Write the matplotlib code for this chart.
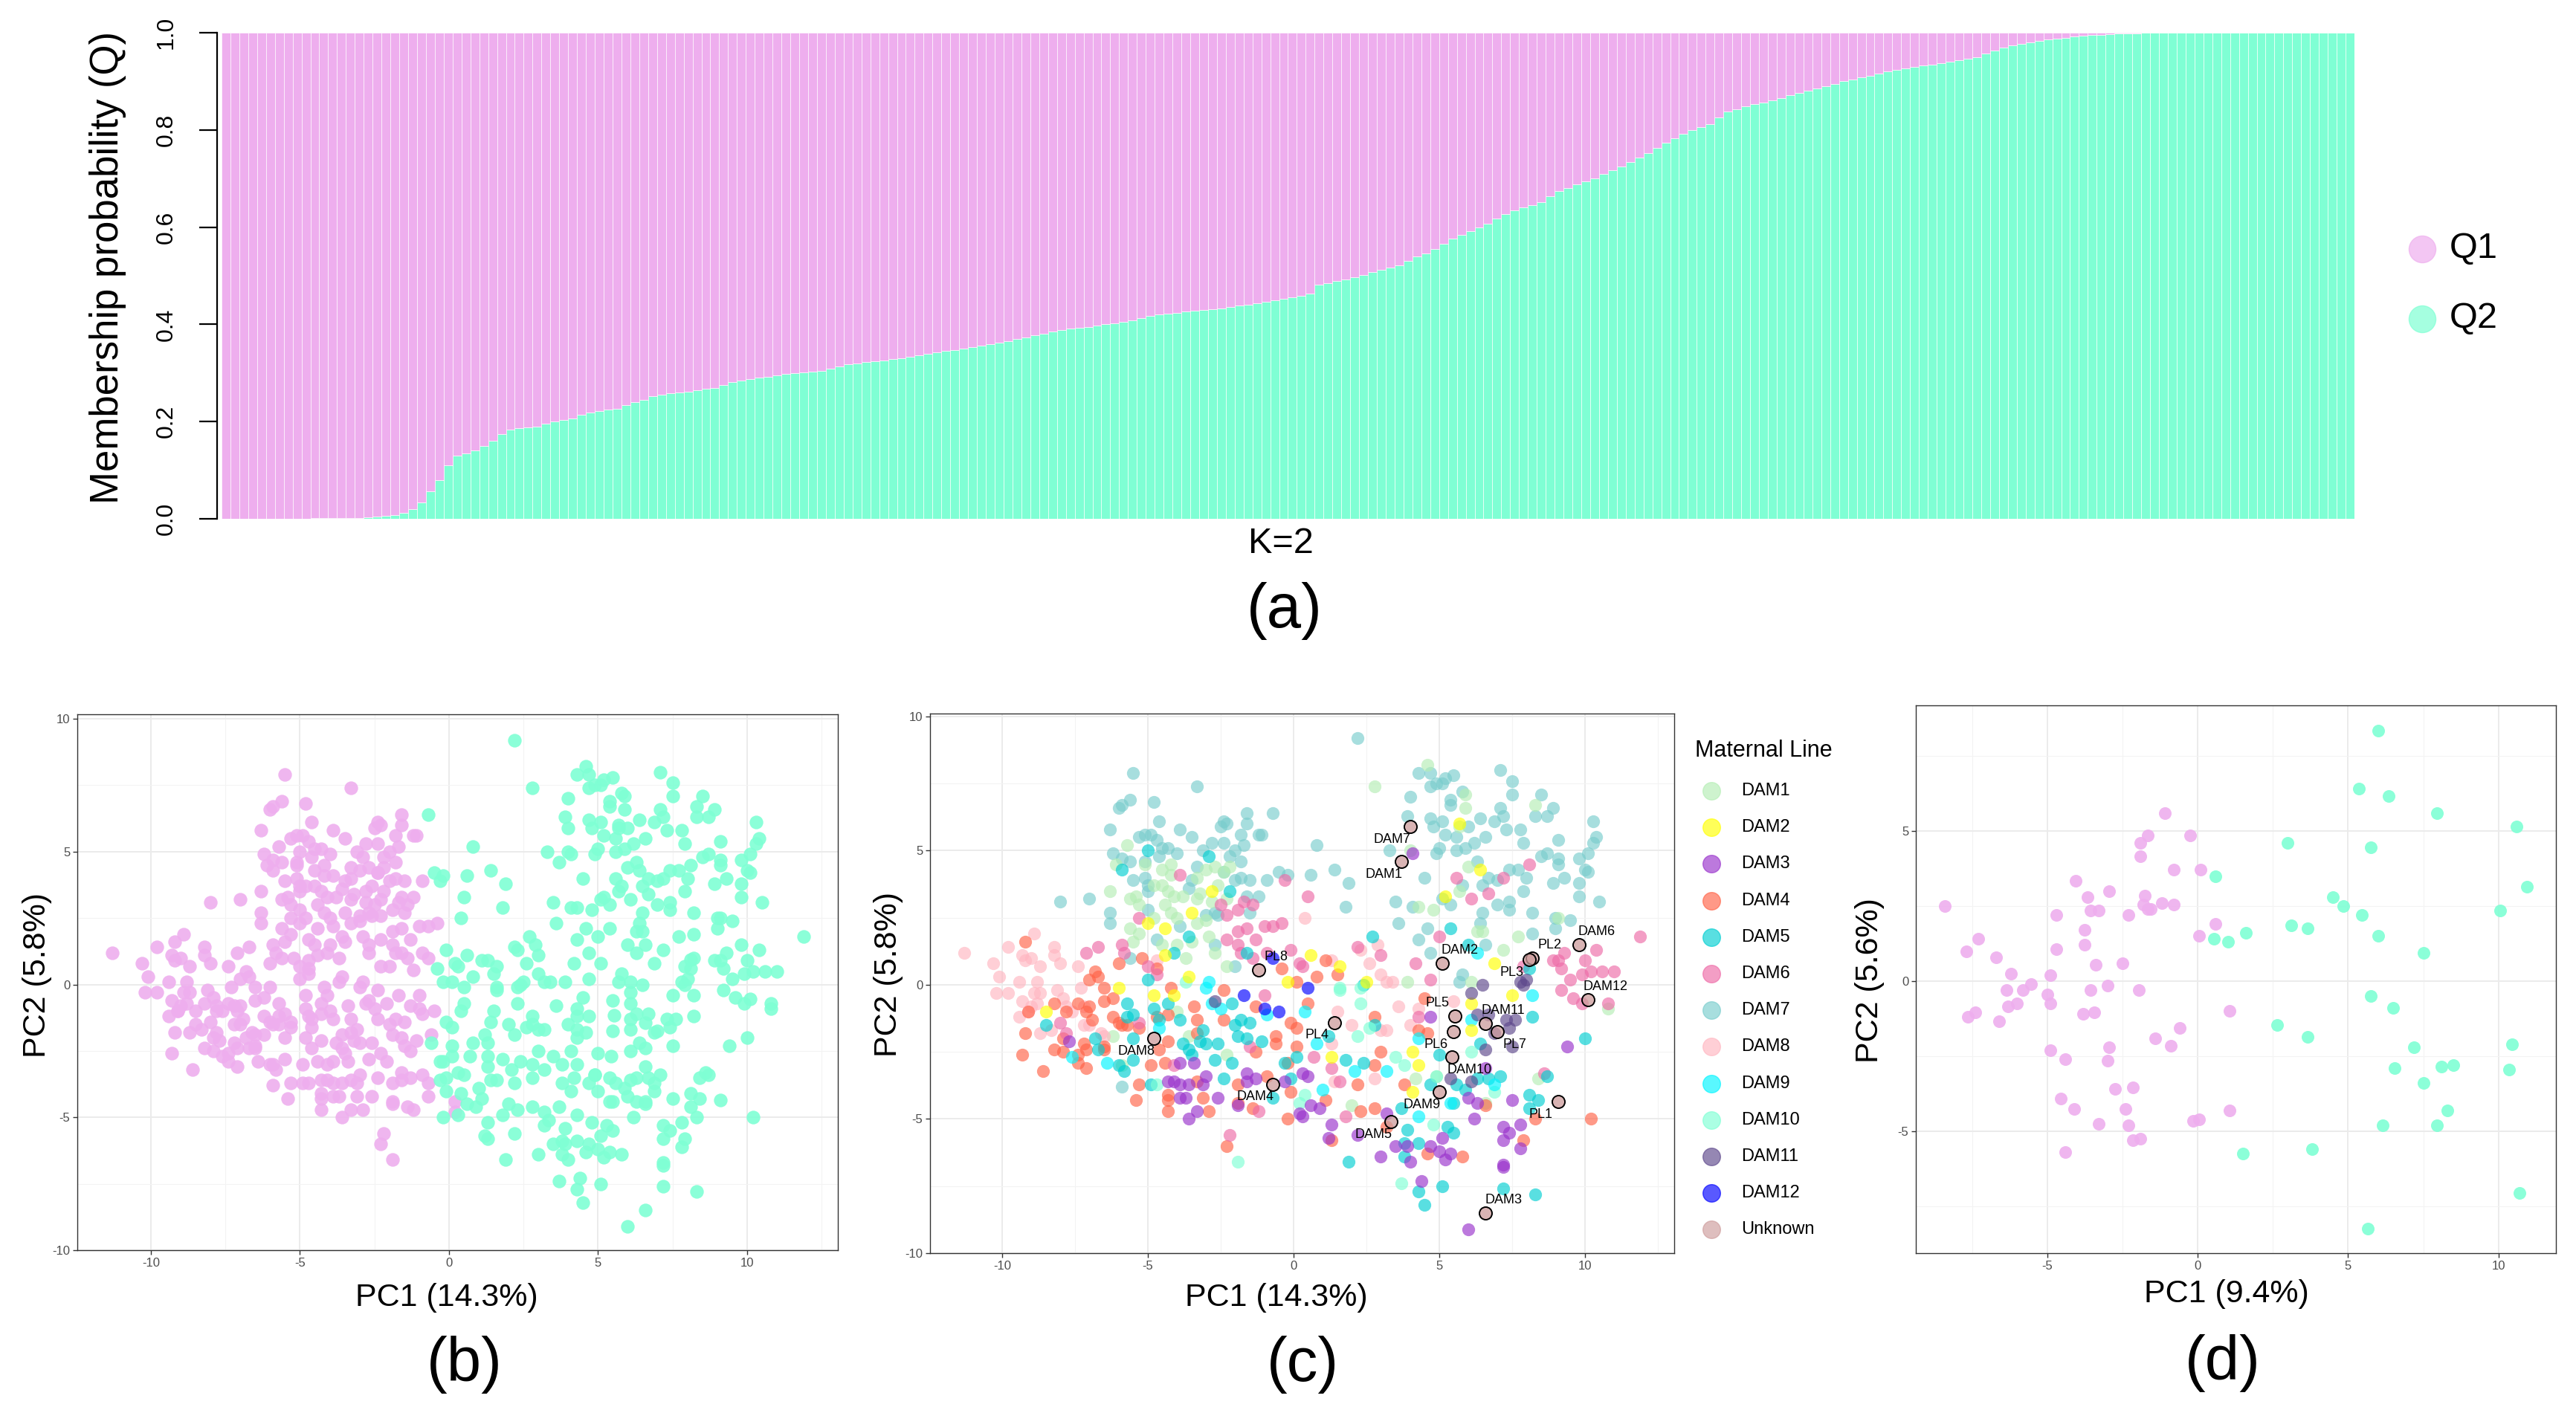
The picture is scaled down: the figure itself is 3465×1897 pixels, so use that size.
import numpy as np
import matplotlib
matplotlib.use("Agg")
import matplotlib.pyplot as plt
from matplotlib.lines import Line2D

plt.rcParams['font.family'] = ['Liberation Sans', 'DejaVu Sans']

W, H = 3465, 1897  # output size in pixels (dpi 100)

# ---------------- (a) membership probabilities, K=2 (sorted by Q2) ----------------
q2 = [
    0.0, 0.0, 0.0, 0.0, 0.0, 0.0, 0.0, 0.0, 0.0, 0.0, 0.001, 0.001, 0.001, 0.002, 0.002, 0.002,
    0.003, 0.005, 0.006, 0.008, 0.012, 0.02, 0.033, 0.057, 0.08, 0.11, 0.13, 0.135, 0.14, 0.15,
    0.16, 0.175, 0.184, 0.186, 0.188, 0.19, 0.195, 0.2, 0.203, 0.206, 0.214, 0.219, 0.222, 0.225, 0.227,
    0.234, 0.24, 0.245, 0.252, 0.256, 0.258, 0.26, 0.262, 0.265, 0.267, 0.269, 0.275, 0.281, 0.285, 0.288,
    0.29, 0.292, 0.295, 0.298, 0.3, 0.301, 0.303, 0.305, 0.309, 0.314, 0.318, 0.32, 0.322, 0.324, 0.326,
    0.328, 0.331, 0.334, 0.337, 0.34, 0.343, 0.345, 0.347, 0.35, 0.353, 0.356, 0.36, 0.363, 0.366, 0.37,
    0.373, 0.377, 0.381, 0.385, 0.388, 0.391, 0.393, 0.395, 0.398, 0.4, 0.402, 0.405, 0.409, 0.413, 0.418,
    0.42, 0.422, 0.424, 0.426, 0.428, 0.429, 0.431, 0.433, 0.436, 0.439, 0.441, 0.444, 0.447, 0.45, 0.453,
    0.456, 0.459, 0.463, 0.481, 0.485, 0.489, 0.493, 0.497, 0.502, 0.507, 0.512, 0.517, 0.522, 0.53, 0.54,
    0.546, 0.555, 0.566, 0.577, 0.584, 0.592, 0.599, 0.607, 0.618, 0.627, 0.634, 0.64, 0.646, 0.652, 0.664,
    0.675, 0.681, 0.688, 0.694, 0.7, 0.709, 0.717, 0.725, 0.734, 0.743, 0.752, 0.763, 0.774, 0.783, 0.792,
    0.8, 0.806, 0.812, 0.826, 0.838, 0.843, 0.848, 0.853, 0.856, 0.861, 0.866, 0.871, 0.876, 0.881, 0.886,
    0.89, 0.895, 0.9, 0.904, 0.908, 0.912, 0.916, 0.92, 0.923, 0.926, 0.929, 0.932, 0.935, 0.938, 0.941,
    0.944, 0.947, 0.95, 0.957, 0.964, 0.97, 0.974, 0.977, 0.98, 0.983, 0.986, 0.988, 0.99, 0.992, 0.994,
    0.995, 0.996, 0.997, 0.998, 0.998, 0.999,
    1.0, 1.0, 1.0, 1.0, 1.0, 1.0, 1.0, 1.0, 1.0, 1.0, 1.0, 1.0,
    1.0, 1.0, 1.0, 1.0, 1.0, 1.0, 1.0, 1.0, 1.0, 1.0, 1.0, 1.0,
]
q_labels = ["Q1", "Q2"]
yticks_a = [0.0, 0.2, 0.4, 0.6, 0.8, 1.0]

# ---------------- (b)/(c) PCA, points per maternal line: (PC1, PC2, cluster) ----------------
dam1 = [(-5.7, 5.2, 1), (-6.1, 4.5, 1), (-5.1, 4.5, 1), (-4.5, 4.3, 1), (-4.2, 4.5, 1), (-4.2, 4.1, 1),
        (-6.3, 3.5, 1), (-5.6, 3.2, 1), (-5.4, 3.3, 1), (-5.3, 3.0, 1), (-4.8, 3.7, 1), (-4.5, 3.7, 1),
        (-4.3, 3.5, 1), (-4.1, 3.3, 1), (-3.8, 3.3, 1), (-3.3, 4.0, 1), (-3.0, 4.3, 1), (-2.7, 4.4, 1),
        (-2.4, 4.2, 1), (-2.2, 4.4, 1), (-2.6, 3.7, 1), (-3.2, 3.4, 1), (-3.3, 3.2, 1), (-2.8, 3.1, 1),
        (-2.3, 3.2, 1), (-4.4, 3.0, 1), (-4.2, 2.7, 1), (-4.0, 2.5, 1), (-3.3, 2.3, 1), (-3.0, 2.4, 1),
        (-4.8, 2.5, 1), (-5.6, 2.1, 1), (-5.3, 1.9, 1), (-5.5, 1.6, 1), (-4.5, 1.5, 1), (-4.0, 1.5, 1),
        (-3.5, 1.6, 1), (-2.9, 1.8, 1), (-2.7, 1.2, 1), (-3.7, 1.0, 1), (-2.3, 0.7, 1),
        (4.6, 8.2, 2), (2.8, 7.4, 2), (5.9, 7.1, 2), (5.9, 6.6, 2), (8.3, 6.7, 2), (5.7, 5.9, 2),
        (6.0, 4.4, 2), (5.7, 3.5, 2), (4.3, 2.9, 2), (4.8, 2.8, 2), (6.3, 2.0, 2), (6.5, 2.0, 2),
        (7.7, 1.8, 2), (7.2, 1.3, 2), (9.1, 2.5, 2), (4.0, 5.0, 2), (6.1, 0.1, 2), (3.9, 0.1, 2),
        (-6.2, -1.9, 1), (-5.9, -3.0, 1), (-4.0, -1.0, 1), (-3.6, -1.9, 1), (-2.3, -2.6, 1),
        (8.4, -3.5, 2), (2.0, -4.5, 2), (6.6, -4.4, 2), (10.8, -0.9, 2), (4.9, -3.4, 2), (4.2, -3.5, 2)]

dam2 = [(-2.8, 3.5, 1), (-3.5, 2.7, 1), (-4.4, 2.1, 1), (-5.0, 2.3, 1), (-4.4, 1.1, 1), (-3.6, 0.3, 1),
        (-0.2, 0.1, 2), (5.7, 6.0, 2), (6.4, 4.3, 2), (5.2, 3.3, 2), (6.9, 0.8, 2), (0.6, 1.1, 2),
        (1.6, 0.7, 2), (2.5, 0.1, 2), (-6.0, -0.1, 1), (-4.8, -0.4, 1), (-4.1, -0.4, 1), (-8.5, -1.0, 1),
        (7.5, -0.4, 2), (6.1, -0.7, 2), (6.1, -1.7, 2), (4.1, -2.5, 2), (4.1, -4.0, 2), (1.3, -2.7, 2),
        (4.3, -3.0, 2)]

dam3 = [(-4.3, -3.6, 1), (-4.1, -3.6, 1), (-3.9, -3.7, 1), (-3.9, -4.2, 1), (-3.7, -4.2, 1),
        (-3.9, -2.9, 1), (-3.4, -2.9, 1), (-3.6, -3.7, 1), (-3.0, -3.4, 1), (-3.1, -3.7, 1),
        (-2.6, -4.2, 1), (-3.3, -4.7, 1), (-3.6, -5.0, 1), (-1.6, -3.3, 1), (-1.6, -3.6, 1),
        (-1.3, -3.5, 1), (-0.3, -3.6, 2), (-1.9, -4.5, 1), (0.2, -4.8, 1), (-7.7, -2.1, 1),
        (4.7, -1.2, 2), (9.4, -2.3, 2), (0.5, -3.4, 2), (0.6, -4.5, 2), (0.9, -4.6, 2), (0.3, -4.9, 2),
        (1.3, -5.2, 2), (1.2, -5.7, 2), (2.2, -5.6, 2), (3.2, -4.8, 2), (3.5, -6.0, 2), (3.9, -6.0, 2),
        (3.0, -6.4, 2), (4.0, -6.6, 2), (4.7, -6.0, 2), (5.0, -6.2, 2), (5.2, -6.5, 2), (5.4, -6.3, 2),
        (5.1, -5.7, 2), (4.4, -7.3, 2), (6.0, -9.1, 2), (6.2, -5.0, 2), (6.0, -4.2, 2), (6.3, -4.4, 2),
        (6.6, -3.1, 2), (7.5, -4.3, 2), (7.2, -5.3, 2), (7.4, -5.5, 2), (7.8, -5.2, 2), (7.2, -5.8, 2),
        (7.8, -6.1, 2), (7.2, -6.7, 2), (7.2, -6.8, 2), (0.3, -3.3, 2), (4.1, 4.9, 2)]

dam4 = [(-9.2, 1.6, 1), (-6.0, 0.8, 1), (-5.2, 1.0, 1), (-6.8, 0.5, 1), (-6.7, 0.3, 1), (-7.0, 0.2, 1),
        (-4.7, 0.6, 1), (-0.4, 0.6, 2), (0.1, 0.1, 2), (1.1, 0.9, 2), (0.8, 0.3, 2), (1.5, 0.4, 2),
        (-9.2, -1.8, 1), (-9.3, -2.6, 1), (-8.6, -3.2, 1), (-9.1, -1.0, 1), (-8.2, -0.7, 1),
        (-7.8, -1.0, 1), (-7.4, -0.7, 1), (-7.1, -1.0, 1), (-7.0, -0.8, 1), (-6.9, -1.3, 1),
        (-7.9, -2.0, 1), (-8.2, -2.4, 1), (-7.9, -2.5, 1), (-7.4, -2.6, 1), (-7.4, -2.9, 1),
        (-7.1, -3.1, 1), (-7.2, -2.2, 1), (-7.1, -2.4, 1), (-6.5, -0.6, 1), (-6.2, -0.5, 1),
        (-6.5, -0.1, 1), (-6.2, -1.2, 1), (-6.0, -1.4, 1), (-6.5, -2.3, 1), (-6.5, -2.4, 1),
        (-5.9, -1.5, 1), (-5.7, -1.5, 1), (-5.3, -1.6, 1), (-4.9, -3.0, 1), (-5.3, -3.7, 1),
        (-5.4, -4.3, 1), (-4.6, -2.4, 1), (-4.4, -2.9, 1), (-4.7, -1.2, 1), (-4.3, -1.1, 1),
        (-4.2, -0.1, 1), (-4.3, -2.1, 1), (-4.3, -4.3, 1), (-4.3, -4.7, 1), (-4.3, -4.1, 1),
        (-3.4, -0.8, 1), (-3.3, -1.3, 1), (-3.3, -1.8, 1), (-3.1, -4.2, 1), (-2.9, -4.7, 1),
        (-2.4, -0.2, 1), (-2.4, -1.3, 1), (-1.9, -3.7, 1), (-1.9, -4.4, 1), (-2.3, -6.0, 1),
        (-1.3, -0.8, 1), (-1.3, -2.5, 1), (-0.6, -1.9, 1), (-0.6, -2.2, 2), (-0.9, -3.4, 1),
        (-0.2, -5.0, 2), (-0.1, -1.4, 2), (0.1, -2.3, 2), (-0.1, -4.0, 2), (-0.2, -2.9, 2),
        (-1.4, -4.6, 1), (-3.3, -3.6, 1),
        (0.5, -0.7, 2), (0.1, -1.6, 2), (2.8, -1.2, 2), (3.0, -2.5, 2), (2.8, -3.0, 2), (2.2, -3.7, 2),
        (1.1, -4.3, 2), (2.3, -4.7, 2), (2.8, -4.6, 2), (3.8, -3.7, 2), (4.3, -1.7, 2), (4.6, -1.8, 2),
        (1.3, -5.8, 2), (4.6, -6.3, 2), (5.8, -6.4, 2), (6.6, -4.5, 2), (7.9, -5.8, 2), (8.3, -5.0, 2),
        (10.2, -5.0, 2), (4.5, -0.5, 2), (3.2, -5.3, 2)]

dam5 = [(-5.0, 5.0, 1), (-5.9, 4.3, 1), (-2.9, 4.8, 1), (-2.2, 3.5, 1), (-3.6, 1.8, 1), (-4.1, 1.2, 1),
        (-5.0, 0.2, 1), (-1.6, 1.2, 1), (2.7, 1.8, 2), (5.4, 2.1, 2), (6.0, 1.5, 2), (8.1, 0.6, 2),
        (2.4, 0.0, 2), (-5.7, -0.7, 1), (-5.7, -1.2, 1), (-5.5, -1.1, 1), (-6.8, -2.0, 1), (-6.7, -2.4, 1),
        (-6.0, -3.0, 1), (-5.8, -3.2, 1), (-5.5, -2.8, 1), (-5.5, -2.0, 1), (-4.8, -0.9, 1),
        (-4.6, -1.3, 1), (-4.3, -0.7, 1), (-3.9, -1.3, 1), (-3.8, -2.2, 1), (-3.6, -2.4, 1),
        (-3.5, -2.6, 1), (-3.2, -2.1, 1), (-3.1, -1.7, 1), (-3.0, -2.2, 1), (-2.6, -2.2, 1),
        (-2.7, -2.8, 1), (-2.4, -3.5, 1), (-2.1, -2.9, 1), (-2.1, -0.7, 1), (-2.0, -1.5, 1),
        (-1.9, -1.9, 1), (-1.6, -2.0, 1), (-1.8, -1.3, 1), (-1.5, -1.4, 1), (-1.1, -2.1, 1),
        (-0.3, -2.9, 2), (0.1, -2.7, 2), (-0.1, -3.5, 2), (-0.7, -4.2, 1), (-4.9, -3.7, 1),
        (-8.5, -1.5, 1),
        (8.2, -1.2, 2), (10.0, -2.0, 2), (8.1, -4.1, 2), (8.4, -4.3, 2), (8.1, -4.6, 2), (7.1, -3.4, 2),
        (5.6, -3.7, 2), (5.5, -4.4, 2), (5.9, -3.9, 2), (5.3, -5.3, 2), (5.5, -5.5, 2), (3.9, -5.4, 2),
        (3.8, -5.9, 2), (4.3, -5.9, 2), (3.8, -6.4, 2), (1.9, -6.6, 2), (4.3, -7.7, 2), (4.5, -8.2, 2),
        (5.1, -7.5, 2), (7.2, -7.6, 2), (8.3, -7.8, 2), (2.8, -1.5, 2), (2.4, -2.9, 2), (1.8, -2.8, 2),
        (1.2, -1.9, 2), (5.0, -2.6, 2), (6.4, -2.2, 2), (6.3, -3.5, 2), (6.7, -3.5, 2), (4.7, -3.7, 2),
        (3.7, -4.6, 2), (8.7, -3.4, 2)]

dam6 = [(-3.9, 4.1, 1), (-0.3, 3.9, 2), (-5.3, 2.5, 1), (-2.5, 3.0, 1), (-2.3, 2.6, 1), (-1.9, 2.8, 1),
        (-1.7, 3.1, 1), (-1.4, 3.0, 1), (-1.6, 2.1, 1), (-1.0, 2.2, 1), (-0.7, 2.2, 1), (-0.4, 2.3, 1),
        (-1.9, 2.0, 1), (-2.3, 1.7, 1), (-1.9, 1.5, 1), (-1.3, 1.7, 1), (-1.8, 1.2, 1), (-1.4, 1.0, 1),
        (-0.9, 1.2, 1), (-0.1, 1.3, 2), (0.2, 0.8, 2), (-6.7, 1.4, 1), (-5.9, 1.5, 1), (-7.1, 1.2, 1),
        (-5.8, 1.2, 1), (-5.0, 0.7, 1), (-4.7, 0.4, 1),
        (8.1, 4.5, 2), (5.6, 4.0, 2), (7.2, 4.0, 2), (6.1, 3.2, 2), (6.7, 3.4, 2), (0.5, 3.3, 2),
        (5.0, 1.8, 2), (11.9, 1.8, 2), (10.4, 1.3, 2), (9.3, 1.2, 2), (10.0, 0.9, 2), (8.9, 0.9, 2),
        (9.1, 0.9, 2), (9.2, 0.6, 2), (9.5, 0.2, 2), (9.9, 0.4, 2), (10.6, 0.5, 2), (11.0, 0.5, 2),
        (10.2, 0.5, 2), (4.2, 0.8, 2), (4.7, 0.2, 2), (3.0, 1.1, 2), (2.2, 1.4, 2), (0.3, 0.7, 2),
        (7.9, 0.7, 2),
        (-8.0, -1.4, 1), (-7.8, -1.8, 1), (-5.3, -1.4, 1), (-2.2, -5.6, 1), (-1.0, -0.4, 1),
        (-1.5, -2.3, 1), (-1.2, -4.7, 1), (-4.1, -3.0, 1),
        (9.2, -0.2, 2), (9.6, -0.5, 2), (9.9, -0.7, 2), (10.8, -0.7, 2), (4.3, -1.2, 2), (8.6, -3.3, 2),
        (0.7, -2.7, 2), (1.6, -3.6, 2), (1.8, -4.9, 2), (1.3, -3.1, 2)]

dam7 = [(-5.5, 7.9, 1), (-3.3, 7.4, 1), (-5.6, 6.9, 1), (-6.0, 6.6, 1), (-5.9, 6.7, 1), (-4.8, 6.8, 1),
        (-4.6, 6.1, 1), (-6.3, 5.8, 1), (-3.9, 5.8, 1), (-3.5, 5.5, 1), (-2.4, 6.1, 1), (-2.5, 5.9, 1),
        (-2.3, 6.0, 1), (-1.6, 6.4, 1), (-1.6, 6.0, 1), (-0.7, 6.4, 2), (-1.8, 5.6, 1), (-1.2, 5.6, 1),
        (-1.1, 5.6, 1), (-1.7, 5.2, 1), (-2.4, 5.3, 1), (-2.8, 5.3, 1), (-3.1, 5.0, 1), (-2.2, 4.8, 1),
        (-2.0, 5.0, 1), (-1.8, 4.6, 1), (-5.3, 5.5, 1), (-5.1, 5.6, 1), (-4.9, 5.6, 1), (-4.7, 5.4, 1),
        (-4.5, 5.1, 1), (-4.3, 5.1, 1), (-4.0, 4.9, 1), (-6.2, 4.9, 1), (-5.9, 4.7, 1), (-5.6, 4.6, 1),
        (-5.1, 4.6, 1), (-4.6, 4.8, 1), (-3.3, 4.4, 1), (-2.4, 4.2, 1), (-2.0, 3.9, 1), (-1.8, 4.0, 1),
        (-1.5, 3.9, 1), (-0.9, 3.9, 1), (-0.5, 4.2, 2), (-0.2, 4.1, 2), (-5.5, 3.9, 1), (-5.1, 4.0, 1),
        (-5.0, 3.7, 1), (-5.0, 3.5, 1), (-3.6, 3.6, 1), (-3.5, 3.9, 1), (-1.6, 3.3, 1), (-1.2, 3.3, 1),
        (-1.5, 2.7, 1), (-8.0, 3.1, 1), (-7.0, 3.2, 1), (-6.3, 2.7, 1), (-6.3, 2.3, 1), (-5.0, 2.8, 1),
        (-3.0, 2.6, 1), (-2.7, 2.7, 1), (-2.6, 2.6, 1), (-3.9, 2.2, 1), (-4.7, 1.7, 1), (-2.7, 1.5, 1),
        (-5.6, 1.0, 1), (-2.0, 0.7, 1), (-5.9, -3.8, 1),
        (2.2, 9.2, 2), (4.3, 7.9, 2), (4.7, 7.9, 2), (4.7, 7.4, 2), (4.9, 7.5, 2), (5.1, 7.5, 2),
        (5.2, 7.7, 2), (5.5, 7.8, 2), (7.1, 8.0, 2), (7.5, 7.6, 2), (7.5, 7.1, 2), (4.0, 7.0, 2),
        (5.4, 6.9, 2), (5.8, 7.2, 2), (5.4, 6.7, 2), (3.9, 6.3, 2), (4.7, 6.2, 2), (4.8, 5.9, 2),
        (5.1, 6.1, 2), (5.2, 5.6, 2), (5.6, 5.5, 2), (6.0, 5.9, 2), (6.4, 6.2, 2), (6.9, 6.1, 2),
        (7.1, 6.6, 2), (7.2, 6.3, 2), (7.3, 5.8, 2), (6.6, 5.5, 2), (6.2, 5.3, 2), (5.9, 5.1, 2),
        (5.6, 5.0, 2), (5.0, 5.1, 2), (4.9, 4.9, 2), (3.3, 5.0, 2), (0.8, 5.2, 2), (0.6, 4.1, 2),
        (1.4, 4.3, 2), (1.9, 3.8, 2), (1.8, 2.9, 2), (4.5, 4.0, 2), (6.3, 4.6, 2), (5.8, 3.7, 2),
        (6.5, 3.7, 2), (6.7, 4.0, 2), (7.0, 3.9, 2), (7.4, 4.3, 2), (7.8, 5.8, 2), (7.9, 5.3, 2),
        (8.5, 7.1, 2), (8.3, 6.3, 2), (8.7, 6.3, 2), (8.9, 6.6, 2), (9.1, 5.4, 2), (10.3, 6.1, 2),
        (10.4, 5.5, 2), (10.3, 5.3, 2), (7.7, 4.3, 2), (8.0, 4.0, 2), (7.9, 3.5, 2), (8.5, 4.8, 2),
        (8.7, 4.9, 2), (9.1, 4.5, 2), (9.1, 4.7, 2), (8.9, 3.8, 2), (9.3, 4.0, 2), (9.8, 4.7, 2),
        (10.1, 4.9, 2), (10.0, 4.3, 2), (10.1, 4.2, 2), (9.8, 3.8, 2), (9.8, 3.3, 2), (10.5, 3.1, 2),
        (3.5, 3.1, 2), (4.1, 2.9, 2), (5.1, 3.2, 2), (5.4, 3.0, 2), (6.5, 2.7, 2), (6.4, 2.3, 2),
        (7.0, 3.0, 2), (7.4, 3.1, 2), (7.4, 2.8, 2), (8.2, 2.7, 2), (3.6, 2.3, 2), (4.6, 2.1, 2),
        (4.3, 1.7, 2), (4.7, 1.2, 2), (6.6, 1.5, 2), (8.2, 1.9, 2), (9.0, 2.5, 2), (9.0, 2.1, 2),
        (5.8, 0.4, 2), (5.7, 0.1, 2), (9.5, 2.4, 2)]

dam8 = [(-11.3, 1.2, 1), (-10.3, 0.8, 1), (-10.1, 0.3, 1), (-9.8, 1.4, 1), (-8.9, 1.9, 1), (-9.3, 1.1, 1),
        (-9.0, 1.0, 1), (-9.2, 0.9, 1), (-8.2, 1.4, 1), (-8.2, 1.1, 1), (-8.0, 0.8, 1), (-7.4, 0.7, 1),
        (-8.7, 0.7, 1), (-4.7, 0.9, 1), (-9.4, 0.1, 1), (-8.8, 0.1, 1),
        (-10.2, -0.3, 1), (-9.8, -0.3, 1), (-9.3, -0.6, 1), (-9.4, -1.2, 1), (-8.9, -0.3, 1),
        (-8.7, -0.3, 1), (-9.0, -0.8, 1), (-9.1, -1.0, 1), (-8.8, -0.7, 1), (-8.7, -1.8, 1),
        (-8.3, -1.7, 1), (-8.1, -0.2, 1), (-7.9, -0.5, 1), (-7.8, -0.8, 1), (-7.6, -1.0, 1),
        (-7.3, -0.1, 1), (-7.0, -1.5, 1), (-7.2, -1.5, 1), (-6.6, -1.8, 1), (-6.5, -1.9, 1),
        (-7.2, -0.8, 1),
        (0.4, 2.5, 2), (2.9, 1.5, 2), (2.3, 1.3, 2), (1.3, 0.9, 2), (2.6, 0.8, 2), (3.0, 0.4, 2),
        (3.2, 0.1, 2), (3.4, 0.1, 2), (3.6, -0.8, 2), (1.5, -1.0, 2), (2.0, -1.5, 2), (3.0, -1.7, 2),
        (3.2, -1.7, 2), (2.8, -3.5, 2), (1.4, -3.6, 2), (4.0, -1.5, 2), (4.3, -0.9, 2), (5.5, -0.6, 2),
        (1.3, -2.2, 2)]

dam9 = [(-2.9, 0.1, 1), (6.3, 1.2, 2), (-6.4, -2.9, 1), (-7.6, -2.7, 1), (-4.6, -1.6, 1), (-2.8, -0.7, 1),
        (-2.5, -0.9, 1), (-0.9, -1.1, 1), (-3.0, -0.1, 1), (8.2, -0.4, 2), (0.4, -1.0, 2), (0.8, -2.2, 2),
        (2.1, -3.2, 2), (3.2, -3.2, 2), (1.0, -3.9, 2), (5.4, -4.4, 2), (4.3, -2.0, 2), (4.3, -4.9, 2),
        (6.9, -3.7, 2), (6.1, -1.3, 2)]

dam10 = [(-3.7, 0.1, 1), (1.6, -0.1, 2), (2.3, -0.1, 2), (-1.9, -6.6, 1), (0.2, -4.4, 1), (-4.7, -3.7, 1),
         (1.6, -0.2, 2), (2.3, -0.7, 2), (2.6, -1.6, 2), (2.2, -1.9, 2), (3.5, -2.7, 2), (3.8, -3.0, 2),
         (0.4, -4.1, 2), (4.8, -5.2, 2), (3.7, -7.4, 2), (6.9, -4.0, 2), (6.1, -2.5, 2), (4.9, -3.4, 2)]

dam11 = [(7.8, 0.1, 2), (8.0, 0.2, 2), (6.5, 0.0, 2), (-2.7, -0.6, 1), (6.1, -0.3, 2), (6.3, -1.1, 2),
         (6.7, -1.1, 2), (7.3, -1.3, 2), (7.6, -1.3, 2), (7.4, -1.6, 2), (6.9, -1.8, 2), (6.6, -2.4, 2),
         (5.4, -3.5, 2), (6.1, -3.6, 2), (7.5, -2.3, 2), (7.9, 0.0, 2)]

dam12 = [(-0.7, 1.0, 1), (-1.7, -0.4, 1), (-1.0, -0.9, 1), (-0.5, -1.0, 1), (0.5, -0.1, 2)]

# labelled parent animals of unknown maternal line: (label, PC1, PC2, cluster)
unknown = [("DAM7", 4.0, 5.9, 2), ("DAM1", 3.7, 4.6, 2), ("DAM2", 5.1, 0.8, 2), ("PL2", 8.2, 1.0, 2),
           ("PL3", 8.1, 0.95, 2), ("DAM6", 9.8, 1.5, 2), ("DAM12", 10.1, -0.55, 2), ("PL8", -1.2, 0.55, 1),
           ("DAM8", -4.8, -2.0, 1), ("DAM4", -0.7, -3.7, 1), ("PL4", 1.4, -1.4, 2), ("PL5", 5.55, -1.15, 2),
           ("PL6", 5.5, -1.75, 2), ("DAM11", 6.6, -1.45, 2), ("PL7", 7.0, -1.75, 2), ("DAM10", 5.45, -2.7, 2),
           ("DAM9", 5.0, -4.0, 2), ("DAM5", 3.35, -5.1, 2), ("PL1", 9.1, -4.35, 2), ("DAM3", 6.6, -8.5, 2)]
label_side = ["ll", "ll", "ur", "ur", "ll", "ur", "ur", "ur", "ll", "ll",
              "ll", "ul", "ll", "ur", "lr", "lr", "ll", "ll", "ll", "ur"]

line_names = ["DAM1", "DAM2", "DAM3", "DAM4", "DAM5", "DAM6", "DAM7", "DAM8",
              "DAM9", "DAM10", "DAM11", "DAM12", "Unknown"]
line_colors = ["#B4EEB4", "#FFFF00", "#9932CC", "#FF6347", "#00CED1", "#EE6AA7", "#79CDCD",
               "#FFB6C1", "#00F5FF", "#7FFFD4", "#5D478B", "#0000FF", "#CD9B9B"]
line_points = [dam1, dam2, dam3, dam4, dam5, dam6, dam7, dam8, dam9, dam10, dam11, dam12]

# ---------------- (d) second PCA ----------------
d_q1 = [(-8.4, 2.5), (-7.7, 1.0), (-7.3, 1.4), (-7.65, -1.2), (-7.4, -1.05), (-6.7, 0.8), (-6.6, -1.35),
        (-6.2, 0.25), (-6.35, -0.3), (-6.3, -0.85), (-6.0, -0.75), (-5.8, -0.3), (-5.55, -0.1), (-4.9, 0.2),
        (-5.0, -0.45), (-4.9, -0.75), (-4.9, -2.3), (-4.7, 2.2), (-4.7, 1.05), (-4.55, -3.9), (-4.4, -2.6),
        (-4.4, -5.7), (-4.1, -4.25), (-4.05, 3.35), (-3.75, 1.7), (-3.75, 1.2), (-3.65, 2.8), (-3.55, -0.3),
        (-3.55, 2.35), (-3.8, -1.1), (-3.45, -1.05), (-3.4, 0.55), (-3.3, 2.35), (-3.3, -4.75), (-3.0, -0.15),
        (-2.95, 3.0), (-2.95, -2.2), (-3.0, -2.65), (-2.75, -3.6), (-2.5, 0.6), (-2.4, -4.25), (-2.3, 2.2),
        (-2.3, -4.8), (-2.15, -3.55), (-2.15, -5.3), (-1.9, -5.25), (-1.95, -0.3), (-1.9, 4.15), (-1.9, 4.6),
        (-1.65, 4.85), (-1.75, 2.85), (-1.8, 2.55), (-1.65, 2.4), (-1.55, 2.4), (-1.4, -1.9), (-1.2, 2.6),
        (-1.1, 5.6), (-0.9, -2.15), (-0.8, 3.7), (-0.8, 2.55), (-0.6, -1.55), (-0.25, 4.85), (-0.15, -4.65),
        (0.05, -4.6), (0.05, 1.5), (0.1, 3.7), (0.6, 1.9), (1.05, -1.0), (1.05, -4.3)]
d_q2 = [(6.0, 8.35), (5.35, 6.4), (6.35, 6.15), (7.95, 5.6), (10.6, 5.15), (3.0, 4.6), (5.75, 4.45),
        (0.6, 3.5), (10.95, 3.15), (4.5, 2.8), (4.85, 2.5), (5.45, 2.2), (10.05, 2.35), (3.1, 1.85),
        (3.65, 1.75), (6.0, 1.5), (1.6, 1.6), (0.55, 1.4), (1.0, 1.3), (7.5, 0.95), (5.75, -0.5),
        (6.5, -0.9), (2.65, -1.45), (3.65, -1.85), (7.2, -2.2), (10.45, -2.1), (6.55, -2.9), (8.1, -2.85),
        (8.5, -2.8), (10.35, -2.95), (7.5, -3.4), (8.3, -4.3), (6.15, -4.8), (7.95, -4.8), (1.5, -5.75),
        (3.8, -5.6), (10.7, -7.05), (5.65, -8.25)]

PINK = "#EEAEEE"
GREEN = "#7FFFD4"


def px_rect(left, top, right, bottom):
    """axes rectangle from pixel edges"""
    return [left / W, 1 - bottom / H, (right - left) / W, (bottom - top) / H]


def ftext(x, y, s, **kw):
    fig.text(x / W, 1 - y / H, s, ha="center", va="center", **kw)


def gg_style(ax, xmaj, xmin, ymaj, ymin):
    """theme_bw-ish look"""
    ax.set_xticks(xmaj)
    ax.set_xticks(xmin, minor=True)
    ax.set_yticks(ymaj)
    ax.set_yticks(ymin, minor=True)
    ax.set_xticklabels([f"{v:g}" for v in xmaj])
    ax.set_yticklabels([f"{v:g}" for v in ymaj])
    ax.grid(which="major", color="#EBEBEB", lw=1.4)
    ax.grid(which="minor", color="#F3F3F3", lw=0.8)
    ax.set_axisbelow(True)
    ax.tick_params(which="major", length=4, width=1, color="#333333",
                   labelsize=12, labelcolor="#4D4D4D", pad=3)
    ax.tick_params(which="minor", length=0)
    for sp in ax.spines.values():
        sp.set_color("#333333")
        sp.set_linewidth(1)


fig = plt.figure(figsize=(W / 100, H / 100), dpi=100)

# ---------------- panel (a) ----------------
ax_a = fig.add_axes(px_rect(298, 44, 3167, 698))
x = np.arange(len(q2))
q1 = [1 - v for v in q2]
ax_a.bar(x, q2, width=1.0, color=GREEN, edgecolor="white", linewidth=0.45)
ax_a.bar(x, q1, bottom=q2, width=1.0, color=PINK, edgecolor="white", linewidth=0.45)
ax_a.set_xlim(-0.5, len(q2) - 0.5)
ax_a.set_ylim(0, 1)
for side in ["top", "right", "bottom"]:
    ax_a.spines[side].set_visible(False)
ax_a.spines["left"].set_position(("outward", 4))
ax_a.spines["left"].set_linewidth(1.6)
ax_a.set_xticks([])
ax_a.set_yticks(yticks_a)
ax_a.set_yticklabels([f"{v:.1f}" for v in yticks_a], rotation=90, va="center")
ax_a.tick_params(axis="y", length=17, width=1.6, labelsize=23, pad=22)
ftext(145, 360, "Membership probability (Q)", fontsize=38, rotation=90)
ftext(1723, 732, "K=2", fontsize=35)
ftext(1728, 822, "(a)", fontsize=60)

# legend for (a)
for lab, col, yy in zip(q_labels, [PINK, GREEN], [335, 429]):
    fig.add_artist(Line2D([3258 / W], [1 - yy / H], marker="o", markersize=26, color=col,
                          alpha=0.7, linestyle="none", transform=fig.transFigure))
    fig.text(3295 / W, 1 - yy / H, lab, fontsize=35, ha="left", va="center")

# ---------------- panel (b) ----------------
ax_b = fig.add_axes(px_rect(104, 961, 1127, 1682))
all_pts = [p for pts in line_points for p in pts] + [(u[1], u[2], u[3]) for u in unknown]
bx1 = [p[0] for p in all_pts if p[2] == 1]
by1 = [p[1] for p in all_pts if p[2] == 1]
bx2 = [p[0] for p in all_pts if p[2] == 2]
by2 = [p[1] for p in all_pts if p[2] == 2]
ax_b.scatter(bx1, by1, s=175, color=PINK, alpha=0.9, linewidths=0)
ax_b.scatter(bx2, by2, s=175, color=GREEN, alpha=0.9, linewidths=0)
ax_b.set_xlim(-12.47, 13.05)
ax_b.set_ylim(-10, 10.17)
gg_style(ax_b, [-10, -5, 0, 5, 10], [-7.5, -2.5, 2.5, 7.5, 12.5],
         [-10, -5, 0, 5, 10], [-7.5, -2.5, 2.5, 7.5])
ftext(50, 1312, "PC2 (5.8%)", fontsize=31, rotation=90)
ftext(601, 1746, "PC1 (14.3%)", fontsize=31)
ftext(625, 1836, "(b)", fontsize=60)

# ---------------- panel (c) ----------------
ax_c = fig.add_axes(px_rect(1251, 960, 2252, 1686))
draw_order = [6, 0, 7, 3, 5, 4, 9, 8, 2, 1, 10, 11]
for k in draw_order:
    pts = line_points[k]
    ax_c.scatter([p[0] for p in pts], [p[1] for p in pts], s=155, color=line_colors[k],
                 alpha=0.65, linewidths=0)
unk_face = matplotlib.colors.to_rgba(line_colors[12], 0.75)
ax_c.scatter([u[1] for u in unknown], [u[2] for u in unknown], s=150, facecolors=[unk_face],
             edgecolors="black", linewidths=1.4)
offs = {"ll": (-17, -12.5), "ur": (17, 12.5), "ul": (-17, 12.5), "lr": (17, -12.5)}
for u, side in zip(unknown, label_side):
    ax_c.annotate(u[0], (u[1], u[2]), xytext=offs[side], textcoords="offset points",
                  ha="center", va="center", fontsize=13)
ax_c.set_xlim(-12.47, 13.07)
ax_c.set_ylim(-10, 10.11)
gg_style(ax_c, [-10, -5, 0, 5, 10], [-7.5, -2.5, 2.5, 7.5, 12.5],
         [-10, -5, 0, 5, 10], [-7.5, -2.5, 2.5, 7.5])
ftext(1195, 1311, "PC2 (5.8%)", fontsize=31, rotation=90)
ftext(1717, 1746, "PC1 (14.3%)", fontsize=31)
ftext(1752, 1836, "(c)", fontsize=60)

# legend for (c)
fig.text(2280 / W, 1 - 1010 / H, "Maternal Line", fontsize=22, ha="left", va="center")
for i, (name, col) in enumerate(zip(line_names, line_colors)):
    yy = 1064 + 49.2 * i
    fig.add_artist(Line2D([2302 / W], [1 - yy / H], marker="o", markersize=17, color=col,
                          alpha=0.65, linestyle="none", transform=fig.transFigure))
    fig.text(2342 / W, 1 - yy / H, name, fontsize=17, ha="left", va="center")

# ---------------- panel (d) ----------------
ax_d = fig.add_axes(px_rect(2577, 949, 3438, 1686))
ax_d.scatter([p[0] for p in d_q1], [p[1] for p in d_q1], s=150, color=PINK, alpha=0.9, linewidths=0)
ax_d.scatter([p[0] for p in d_q2], [p[1] for p in d_q2], s=150, color=GREEN, alpha=0.9, linewidths=0)
ax_d.set_xlim(-9.37, 11.91)
ax_d.set_ylim(-9.06, 9.18)
gg_style(ax_d, [-5, 0, 5, 10], [-7.5, -2.5, 2.5, 7.5],
         [-5, 0, 5], [-7.5, -2.5, 2.5, 7.5])
ftext(2515, 1319, "PC2 (5.6%)", fontsize=31, rotation=90)
ftext(2995, 1741, "PC1 (9.4%)", fontsize=31)
ftext(2990, 1834, "(d)", fontsize=60)

fig.savefig("out.png", dpi=100)
